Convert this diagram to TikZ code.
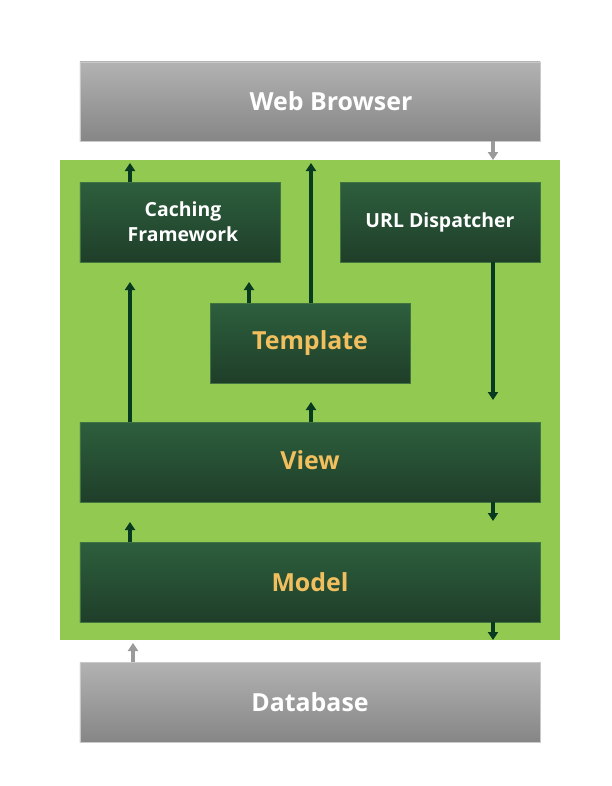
\documentclass[tikz,border=0pt]{standalone}
\usepackage{fontspec}
\setmainfont{Open Sans}
\usetikzlibrary{arrows.meta,shadings}
\definecolor{panelgreen}{HTML}{92C950}
\definecolor{boxtop}{HTML}{2D5F3D}
\definecolor{boxbot}{HTML}{1F3E29}
\definecolor{graytop}{HTML}{B2B2B2}
\definecolor{graybot}{HTML}{868686}
\definecolor{gold}{HTML}{F2BF5E}
\definecolor{arrowdark}{HTML}{083A22}
\definecolor{arrowgray}{HTML}{9A9A9A}
\tikzset{
  gbox/.style={draw=boxtop!80!panelgreen, line width=0.8bp, top color=boxtop, bottom color=boxbot,
    inner sep=0pt, align=center, font=\bfseries},
  smalltext/.style={text=white, font=\bfseries\fontsize{19.5}{25}\selectfont},
  bigtext/.style={text=gold, font=\bfseries\fontsize{25}{28}\selectfont},
  graybox/.style={draw=graytop!70!white, line width=0.8bp, top color=graytop, bottom color=graybot,
    inner sep=0pt, text=white, font=\bfseries\fontsize{25}{28}\selectfont},
  flow/.style={draw=arrowdark, line width=3.6bp, -{Triangle[width=10bp,length=8bp]}},
  grayflow/.style={draw=arrowgray, line width=3.6bp, -{Triangle[width=10bp,length=8bp]}},
}
\begin{document}
\begin{tikzpicture}[x=1bp,y=-1bp]
\useasboundingbox (0,0) rectangle (612,786);
\fill[white] (0,0) rectangle (612,786);
% panel
\node[fill=panelgreen, minimum width=500bp, minimum height=480bp, inner sep=0pt] (panel) at (310,400) {};
% boxes
\node[graybox, minimum width=460bp, minimum height=79bp] (web) at (310,101.5) {\hspace*{42bp}Web Browser};
\node[graybox, minimum width=460bp, minimum height=80bp] (db) at (310,702) {Database};
\node[gbox, smalltext, minimum width=200bp, minimum height=80bp] (cache) at (180,222) {\hspace*{6bp}Caching\\\hspace*{6bp}Framework};
\node[gbox, smalltext, minimum width=200bp, minimum height=80bp] (url) at (440,222) {URL Dispatcher};
\node[gbox, bigtext, minimum width=200bp, minimum height=80bp] (tpl) at (310,343) {\raisebox{-3bp}{Template}};
\node[gbox, bigtext, minimum width=460bp, minimum height=80bp] (view) at (310,462) {\raisebox{4bp}{View}};
\node[gbox, bigtext, minimum width=460bp, minimum height=80bp] (model) at (310,582) {Model};
% free arrow ends
\coordinate (cacheup) at (130,163);
\coordinate (tplup) at (311,163);
\coordinate (viewcache) at (130,282);
\coordinate (tplcache) at (249,282);
\coordinate (urldown) at (493,400);
\coordinate (viewtpl) at (311,402);
\coordinate (viewdown) at (493,521);
\coordinate (modelup) at (130,522);
\coordinate (modeldown) at (493,640);
\coordinate (webdown) at (493,160);
\coordinate (dbup) at (133,643);
% arrows
\draw[grayflow] (web.south -| webdown) -- (webdown);
\draw[flow] (cache.north -| cacheup) -- (cacheup);
\draw[flow] (tpl.north -| tplup) -- (tplup);
\draw[flow] (view.north -| viewcache) -- (viewcache);
\draw[flow] (tpl.north -| tplcache) -- (tplcache);
\draw[flow] (url.south -| urldown) -- (urldown);
\draw[flow] (view.north -| viewtpl) -- (viewtpl);
\draw[flow] (view.south -| viewdown) -- (viewdown);
\draw[flow] (model.north -| modelup) -- (modelup);
\draw[flow] (model.south -| modeldown) -- (modeldown);
\draw[grayflow] (db.north -| dbup) -- (dbup);
\end{tikzpicture}
\end{document}
